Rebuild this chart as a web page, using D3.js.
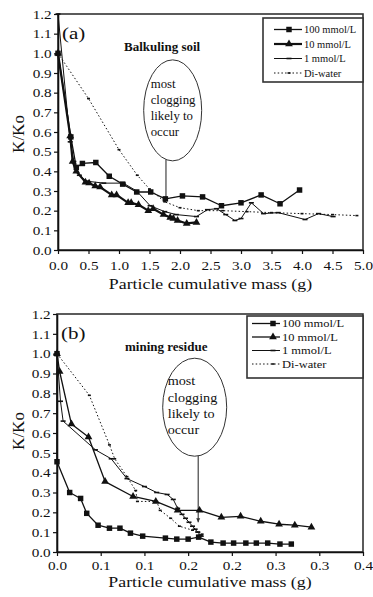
<!DOCTYPE html>
<html>
<head>
<meta charset="utf-8">
<script src="https://cdn.jsdelivr.net/npm/d3@7"></script>
<style>
  body { margin: 0; background: #fff; }
  svg text { font-family: "Liberation Serif", "Times New Roman", serif; fill: #111; }
</style>
</head>
<body>
<div id="chart-area"></div>
<script>
const SERIES = ["100 mmol/L", "10 mmol/L", "1 mmol/L", "Di-water"]

const Y_TICKS = [0, 0.1, 0.2, 0.3, 0.4, 0.5, 0.6, 0.7, 0.8, 0.9, 1.0, 1.1, 1.2]
const Y_TICK_LABELS = ["0.0", "0.1", "0.2", "0.3", "0.4", "0.5", "0.6", "0.7", "0.8", "0.9", "1.0", "1.1", "1.2"]

const X_TICKS_A = [0, 0.5, 1, 1.5, 2, 2.5, 3, 3.5, 4, 4.5, 5]
const X_TICK_LABELS_A = ["0.0", "0.5", "1.0", "1.5", "2.0", "2.5", "3.0", "3.5", "4.0", "4.5", "5.0"]

// excel rounded the 0.05 steps to one decimal
const X_TICKS_B = [0, 0.05, 0.1, 0.15, 0.2, 0.25, 0.3, 0.35]
const X_TICK_LABELS_B = ["0.0", "0.1", "0.1", "0.2", "0.2", "0.3", "0.3", "0.4"]

// (a) Balkuling soil : [mass g, K/Ko]
const soil100 = [[0, 1.0], [0.21, 0.575], [0.3, 0.42], [0.4, 0.44], [0.62, 0.445], [0.84, 0.375], [1.06, 0.335],
  [1.29, 0.295], [1.52, 0.295], [1.76, 0.26], [2.04, 0.275], [2.37, 0.27], [2.68, 0.225], [3.0, 0.24],
  [3.33, 0.28], [3.64, 0.235], [3.96, 0.305]]
const soil10 = [[0, 1.0], [0.2, 0.58], [0.24, 0.45], [0.3, 0.4], [0.45, 0.345], [0.51, 0.34], [0.61, 0.325],
  [0.69, 0.32], [0.88, 0.28], [0.96, 0.28], [1.15, 0.24], [1.2, 0.24], [1.32, 0.23], [1.48, 0.2], [1.56, 0.21],
  [1.73, 0.18], [1.84, 0.165], [1.89, 0.16], [1.96, 0.15], [2.11, 0.135], [2.27, 0.14]]
const soil1 = [[0, 1.2], [0.2, 0.55], [0.26, 0.45], [0.35, 0.38], [0.47, 0.35], [0.75, 0.34], [1.07, 0.34],
  [1.29, 0.3], [1.51, 0.225], [1.75, 0.195], [1.94, 0.18], [2.27, 0.17], [2.45, 0.205], [2.6, 0.21],
  [2.75, 0.18], [2.9, 0.15], [3.0, 0.16], [3.17, 0.24], [3.37, 0.185], [3.61, 0.19], [4.05, 0.155],
  [4.27, 0.185], [4.51, 0.17]]
const soilDi = [[0, 1.0], [0.5, 0.77], [1.0, 0.51], [1.3, 0.38], [1.5, 0.31], [1.75, 0.245], [2.0, 0.215],
  [2.3, 0.2], [2.7, 0.2], [3.1, 0.195], [3.5, 0.19], [4.0, 0.185], [4.5, 0.18], [4.9, 0.175]]

// (b) mining residue
const mine100 = [[0, 1.0], [0, 0.455], [0.0145, 0.3], [0.027, 0.27], [0.034, 0.195], [0.047, 0.135], [0.06, 0.12],
  [0.072, 0.12], [0.084, 0.095], [0.098, 0.08], [0.124, 0.07], [0.137, 0.065], [0.15, 0.065], [0.162, 0.075],
  [0.176, 0.05], [0.19, 0.045], [0.202, 0.045], [0.216, 0.045], [0.228, 0.045], [0.241, 0.045], [0.255, 0.04],
  [0.268, 0.04]]
const mine10 = [[0, 1.0], [0.003, 0.91], [0.0165, 0.645], [0.036, 0.58], [0.055, 0.355], [0.087, 0.28],
  [0.113, 0.255], [0.138, 0.21], [0.163, 0.21], [0.188, 0.175], [0.21, 0.18], [0.233, 0.155], [0.254, 0.14],
  [0.272, 0.135], [0.291, 0.125]]
const mine1 = [[0, 1.0], [0.004, 0.76], [0.007, 0.66], [0.044, 0.515], [0.062, 0.47], [0.08, 0.37], [0.1, 0.33],
  [0.114, 0.3], [0.126, 0.29], [0.133, 0.265], [0.138, 0.22], [0.143, 0.19], [0.147, 0.17], [0.151, 0.15],
  [0.155, 0.13], [0.158, 0.115], [0.161, 0.1], [0.164, 0.085], [0.165, 0.08]]
const mineDi = [[0, 1.0], [0.037, 0.79], [0.06, 0.54], [0.066, 0.47], [0.08, 0.38], [0.09, 0.31], [0.092, 0.255],
  [0.114, 0.255], [0.118, 0.21], [0.13, 0.17], [0.14, 0.13], [0.155, 0.11], [0.162, 0.1], [0.166, 0.09]]

const NOTE = ["most", "clogging", "likely to", "occur"]

const INK = "#111"
const STYLES = [
  { marker: "square", width: 1.3, dash: null },
  { marker: "triangle", width: 1.3, dash: null },
  { marker: "dash", width: 1, dash: null },
  { marker: "dot", width: 1, dash: "1.5,2.2" }
]

const svg = d3.select("#chart-area").append("svg")
  .attr("width", 373)
  .attr("height", 597)

// text stretched sideways a bit, the scan is wider than tall
function label(g, x, y, str, size, k, opts = {}) {
  return g.append("text")
    .attr("transform", `translate(${x},${y}) scale(${k},1)`)
    .attr("font-size", size)
    .attr("font-weight", opts.bold ? "bold" : null)
    .attr("text-anchor", opts.anchor || "start")
    .text(str)
}

function marker(g, type, cx, cy) {
  if (type === "square" || type === "triangle") {
    g.append("path")
      .attr("transform", `translate(${cx},${cy})`)
      .attr("d", d3.symbol().type(type === "square" ? d3.symbolSquare : d3.symbolTriangle).size(type === "square" ? 30 : 26)())
      .attr("fill", INK)
  } else {
    const w = type === "dash" ? 5 : 3
    g.append("rect")
      .attr("x", cx - w / 2).attr("y", cy - 0.8)
      .attr("width", w).attr("height", 1.6)
      .attr("fill", INK)
  }
}

function drawPanel(p) {
  const x = d3.scaleLinear().domain(p.xDomain).range([p.left, p.right])
  const y = d3.scaleLinear().domain([0, 1.2]).range([p.bottom, p.top])
  const g = svg.append("g")

  g.append("rect")
    .attr("x", p.left).attr("y", p.top)
    .attr("width", p.right - p.left).attr("height", p.bottom - p.top)
    .attr("fill", "none").attr("stroke", "#333").attr("stroke-width", 1.6)

  // callout
  const ex = x(p.note.cx), ey = y(p.note.cy)
  g.append("ellipse")
    .attr("cx", ex).attr("cy", ey).attr("rx", p.note.rx).attr("ry", p.note.ry)
    .attr("fill", "none").attr("stroke", "#333").attr("stroke-width", 1)
  const lx = x(p.note.lineX)
  const dx = (lx - ex) / p.note.rx
  g.append("line")
    .attr("x1", lx).attr("x2", lx)
    .attr("y1", ey + p.note.ry * Math.sqrt(1 - dx * dx))
    .attr("y2", y(p.note.lineY))
    .attr("stroke", "#333").attr("stroke-width", 1.1)
  if (p.note.arrow) {
    g.append("path")
      .attr("d", `M${lx - 2},${y(p.note.lineY) - 4}L${lx + 2},${y(p.note.lineY) - 4}L${lx},${y(p.note.lineY)}Z`)
      .attr("fill", "#333")
  }
  NOTE.forEach((t, i) => label(g, ex + p.note.textDx, ey + p.note.textDy + i * p.note.lead, t, p.note.size, p.note.k))

  // series, drawn last to first so squares end up on top
  d3.range(p.series.length).reverse().forEach(i => {
    const s = STYLES[i]
    const d = p.series[i]
    g.append("path")
      .datum(d)
      .attr("fill", "none")
      .attr("stroke", INK)
      .attr("stroke-width", i === 1 ? p.width10 : s.width)
      .attr("stroke-dasharray", s.dash)
      .attr("stroke-linejoin", "round")
      .attr("d", d3.line().x(v => x(v[0])).y(v => y(v[1])))
    d.forEach(v => marker(g, s.marker, x(v[0]), y(v[1])))
  })

  // axes
  const yAxis = g.append("g")
    .attr("transform", `translate(${p.left},0)`)
    .call(d3.axisLeft(y).tickValues(Y_TICKS).tickFormat((d, i) => Y_TICK_LABELS[i])
      .tickSizeInner(4).tickSizeOuter(0).tickPadding(1.5))
  const xAxis = g.append("g")
    .attr("transform", `translate(0,${p.bottom})`)
    .call(d3.axisBottom(x).tickValues(p.xTicks).tickFormat((d, i) => p.xLabels[i])
      .tickSizeInner(4).tickSizeOuter(0).tickPadding(p.xPad))
  ;[yAxis, xAxis].forEach(a => {
    a.attr("font-family", null).attr("font-size", 13.2)
    a.select(".domain").attr("stroke", INK).attr("stroke-width", 1.6)
    a.selectAll(".tick line").attr("stroke", INK).attr("stroke-width", 1.2)
    a.selectAll(".tick text").attr("fill", "#111")
  })
  yAxis.selectAll(".tick text").attr("transform", "scale(1.15,1)")
  xAxis.selectAll(".tick text").attr("transform", "scale(1.15,1)")

  label(g, (p.left + p.right) / 2, p.titleY, "Particle cumulative mass (g)", 15.5, 1.15, { anchor: "middle" })
  g.append("text")
    .attr("transform", `translate(24,${p.yTitleY}) rotate(-90)`)
    .attr("font-size", 17)
    .attr("text-anchor", "middle")
    .text("K/Ko")

  label(g, p.left + 4, p.top + 25, p.tag, 17.5, 1.2)
  label(g, p.headX, p.top + 37, p.head, 12.5, 1.04, { bold: true })

  // legend
  const L = p.legend
  g.append("rect")
    .attr("x", L.x).attr("y", L.y).attr("width", p.right - L.x).attr("height", L.h)
    .attr("fill", "#fff").attr("stroke", "#333").attr("stroke-width", 1.6)
  SERIES.forEach((name, i) => {
    const s = STYLES[i]
    const cy = L.y + L.first + i * L.step
    g.append("line")
      .attr("x1", L.x + L.line0).attr("x2", L.x + L.line1)
      .attr("y1", cy).attr("y2", cy)
      .attr("stroke", INK)
      .attr("stroke-width", i === 1 ? p.width10 : s.width)
      .attr("stroke-dasharray", s.dash)
    marker(g, s.marker, L.x + L.mark, cy)
    label(g, L.x + L.text, cy + 3.5, name, L.size, L.k)
  })
}

drawPanel({
  left: 58, right: 363, top: 14, bottom: 250,
  xDomain: [0, 5], xTicks: X_TICKS_A, xLabels: X_TICK_LABELS_A, xPad: 7,
  series: [soil100, soil10, soil1, soilDi], width10: 2.2,
  titleY: 289, yTitleY: 134,
  tag: "(a)", head: "Balkuling soil", headX: 124,
  note: { cx: 1.88, cy: 0.71, rx: 29, ry: 50.5, lineX: 1.77, lineY: 0.26, arrow: false,
    textDx: -22, textDy: -22, lead: 15.8, size: 12.8, k: 1.0 },
  legend: { x: 263, y: 18, h: 64, first: 11.5, step: 14.5, line0: 11, line1: 39, mark: 26, text: 41, size: 10, k: 1.05 }
})

drawPanel({
  left: 57, right: 363, top: 314, bottom: 552,
  xDomain: [0, 0.35], xTicks: X_TICKS_B, xLabels: X_TICK_LABELS_B, xPad: 4.5,
  series: [mine100, mine10, mine1, mineDi], width10: 1.3,
  titleY: 587, yTitleY: 431,
  tag: "(b)", head: "mining residue", headX: 125,
  note: { cx: 0.1575, cy: 0.73, rx: 32, ry: 49, lineX: 0.1615, lineY: 0.15, arrow: true,
    textDx: -27, textDy: -22, lead: 16.3, size: 13.5, k: 1.05 },
  legend: { x: 247, y: 316, h: 62, first: 7.5, step: 13.5, line0: 5, line1: 33, mark: 26, text: 35, size: 10, k: 1.25 }
})
</script>
</body>
</html>
